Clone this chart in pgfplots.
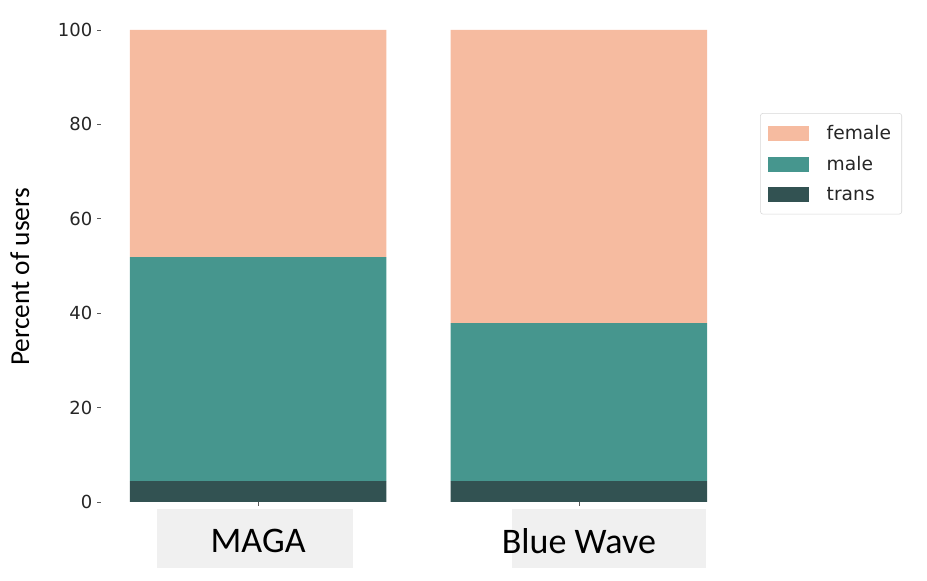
\documentclass[border=0pt]{standalone}
\usepackage{pgfplots}
\pgfplotsset{compat=1.18}
\usepackage{fontspec}
\setmainfont{Carlito}
\newfontfamily\dejavu{DejaVu Sans}
\definecolor{female}{RGB}{246,187,160}
\definecolor{male}{RGB}{70,150,142}
\definecolor{trans}{RGB}{50,82,82}
\definecolor{lbl}{RGB}{240,240,240}
\definecolor{tickgray}{RGB}{90,90,90}
\begin{document}
\begin{tikzpicture}
\useasboundingbox (0,0) rectangle (695.25pt,435.75pt);
\fill[lbl] (117.75pt,9.75pt) rectangle (264.75pt,54pt);
\fill[lbl] (384pt,9.75pt) rectangle (529.5pt,54pt);
\begin{axis}[
  at={(75.75pt,59.25pt)}, anchor=south west,
  scale only axis, width=476.25pt, height=354pt,
  ybar stacked, bar width=0.8,
  xmin=-0.49, xmax=1.49, ymin=0, ymax=100,
  xtick={0,1}, xticklabels={MAGA, Blue Wave},
  ytick={0,20,40,60,80,100},
  axis line style={draw=none},
  tick style={tickgray, line width=0.5pt},
  major tick length=3pt, tick align=outside,
  xtick pos=bottom, ytick pos=left,
  /pgf/number format/assume math mode=true,
  yticklabel style={font=\dejavu\fontsize{13.5}{16}\selectfont, text=black!85},
  xticklabel style={font=\fontsize{27}{31}\selectfont, anchor=center, yshift=-26pt},
  ylabel={Percent of users},
  ylabel style={at={(axis description cs:-0.1276,0.477)}, anchor=center, rotate=0, font=\fontsize{20.5}{24}\selectfont},
  reverse legend,
  legend style={at={(1.038,0.824)}, anchor=north west,
    draw={rgb,255:red,215;green,215;blue,215}, rounded corners=2pt,
    font=\dejavu\fontsize{14}{16}\selectfont, text=black!85,
    row sep=7pt, inner xsep=6pt, inner ysep=7pt,
    /tikz/every odd column/.append style={column sep=11pt}},
  legend cell align=left,
  legend image code/.code={\fill[#1, sharp corners] (0pt,-5.6pt) rectangle (30.75pt,5.6pt);},
]
\addplot[fill=trans, draw=none] coordinates {(0,4.4) (1,4.4)};
\addlegendentry{trans}
\addplot[fill=male, draw=none] coordinates {(0,47.5) (1,33.5)};
\addlegendentry{male}
\addplot[fill=female, draw=none] coordinates {(0,48.1) (1,62.1)};
\addlegendentry{female}
\end{axis}
\end{tikzpicture}
\end{document}
